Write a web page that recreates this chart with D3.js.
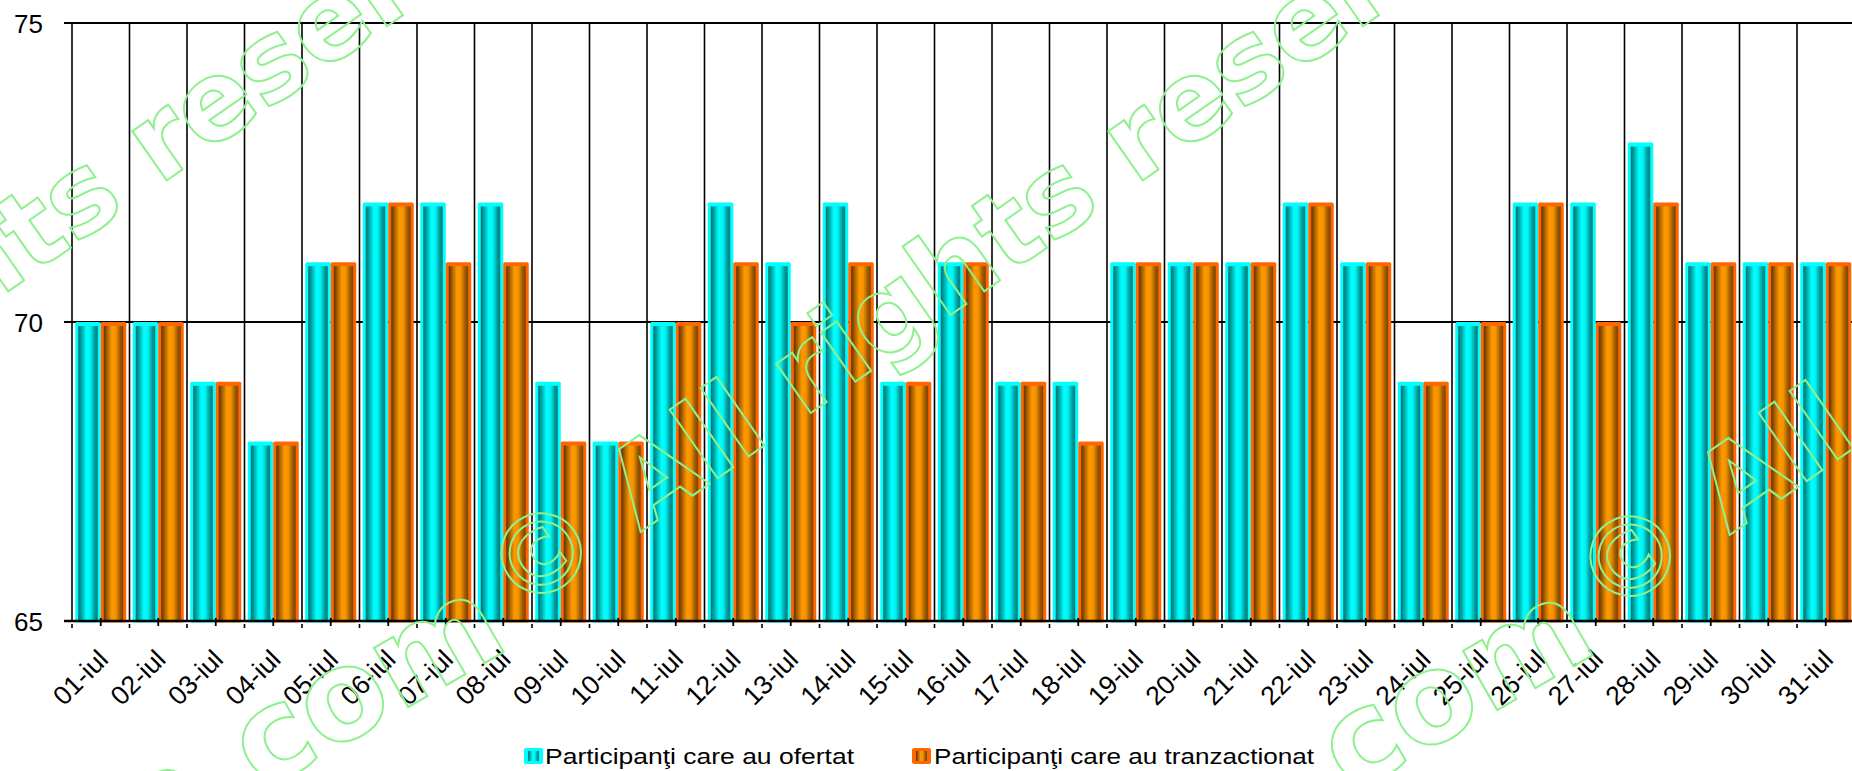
<!DOCTYPE html>
<html>
<head>
<meta charset="utf-8">
<script src="https://cdn.jsdelivr.net/npm/d3@7/dist/d3.min.js"></script>
<style>
  html, body { margin: 0; padding: 0; background: #fff; }
  svg { display: block; }
</style>
</head>
<body>
<svg id="chart" width="1852" height="771"></svg>
<script>
const categories = ["01-iul","02-iul","03-iul","04-iul","05-iul","06-iul","07-iul","08-iul","09-iul","10-iul",
  "11-iul","12-iul","13-iul","14-iul","15-iul","16-iul","17-iul","18-iul","19-iul","20-iul",
  "21-iul","22-iul","23-iul","24-iul","25-iul","26-iul","27-iul","28-iul","29-iul","30-iul","31-iul"];
const ofertat =       [70,70,69,68,71,72,72,72,69,68,70,72,71,72,69,71,69,69,71,71,71,72,71,69,70,72,72,73,71,71,71];
const tranzactionat = [70,70,69,68,71,72,71,71,68,68,70,71,70,71,69,71,69,68,71,71,71,72,71,69,70,72,70,72,71,71,71];
const seriesNames = ["Participanţi care au ofertat", "Participanţi care au tranzactionat"];
const yTicks = [65, 70, 75];
const watermarkMain = "© All rights reserved";
const watermarkPre = "a.com";

const W = 1852, H = 771;
const plotLeft = 72, plotTop = 23, plotBottom = 621, step = 57.5;
const svg = d3.select("#chart");
const defs = svg.append("defs");

function grad(id, stops) {
  const g = defs.append("linearGradient").attr("id", id)
    .attr("x1", "0%").attr("x2", "100%").attr("y1", "0%").attr("y2", "0%");
  stops.forEach(s => g.append("stop").attr("offset", s[0]).attr("stop-color", s[1]));
}
grad("gCyan", [[0,"#006f6f"],[0.18,"#00a8a8"],[0.42,"#00ffff"],[0.62,"#00f4f4"],[0.85,"#009a9a"],[1,"#007a7a"]]);
grad("gOrange", [[0,"#5e3000"],[0.18,"#a86000"],[0.42,"#ff9900"],[0.62,"#f59200"],[0.85,"#9a5800"],[1,"#7a4400"]]);

const x = d3.scaleBand().domain(categories).range([plotLeft, plotLeft + step * categories.length]).padding(0);
const xs = d3.scaleBand().domain(["o", "t"]).range([0, x.bandwidth()]).paddingInner(0).paddingOuter(0.1275);
const y = d3.scaleLinear().domain([65, 75]).range([plotBottom, plotTop]);

// horizontal gridlines
svg.append("g").selectAll("line").data(yTicks.filter(v => v > 65)).join("line")
  .attr("x1", plotLeft - 8).attr("x2", W).attr("y1", d => y(d)).attr("y2", d => y(d))
  .attr("stroke", "#000").attr("stroke-width", 2);

// vertical gridlines
svg.append("g").selectAll("line").data(d3.range(categories.length + 1)).join("line")
  .attr("x1", i => plotLeft + i * step).attr("x2", i => plotLeft + i * step)
  .attr("y1", y(75)).attr("y2", y(65))
  .attr("stroke", "#000").attr("stroke-width", 1.6);

// bars
const series = [
  {key: "o", values: ofertat, border: "#00ffff", fill: "url(#gCyan)"},
  {key: "t", values: tranzactionat, border: "#ff6600", fill: "url(#gOrange)"}
];
const barG = svg.append("g");
series.forEach(s => {
  const g = barG.append("g");
  const bw = xs.bandwidth();
  g.selectAll("rect.outer").data(categories).join("rect").attr("class", "outer")
    .attr("x", (c) => x(c) + xs(s.key)).attr("width", bw)
    .attr("y", (c, i) => y(s.values[i])).attr("height", (c, i) => y(65) - y(s.values[i]) + 1.5)
    .attr("rx", 1.5).attr("fill", s.border);
  g.selectAll("rect.inner").data(categories).join("rect").attr("class", "inner")
    .attr("x", (c) => x(c) + xs(s.key) + 3).attr("width", bw - 6)
    .attr("y", (c, i) => y(s.values[i]) + 4).attr("height", (c, i) => y(65) - y(s.values[i]) - 4)
    .attr("fill", s.fill);
});

// x axis line and top line
svg.append("line").attr("x1", plotLeft - 8).attr("x2", W).attr("y1", y(65)).attr("y2", y(65))
  .attr("stroke", "#000").attr("stroke-width", 2.5);
svg.append("line").attr("x1", plotLeft - 8).attr("x2", W).attr("y1", y(75)).attr("y2", y(75))
  .attr("stroke", "#000").attr("stroke-width", 2);

// ticks: centre (crossing) and boundary (short below)
svg.append("g").selectAll("line").data(categories).join("line")
  .attr("x1", c => x(c) + x.bandwidth() / 2).attr("x2", c => x(c) + x.bandwidth() / 2)
  .attr("y1", y(65) - 3).attr("y2", y(65) + 5).attr("stroke", "#000").attr("stroke-width", 1.8);
svg.append("g").selectAll("line").data(d3.range(categories.length + 1)).join("line")
  .attr("x1", i => plotLeft + i * step).attr("x2", i => plotLeft + i * step)
  .attr("y1", y(65) + 3).attr("y2", y(65) + 7).attr("stroke", "#000").attr("stroke-width", 1.6);

// y axis labels via d3 axis
const yAxis = svg.append("g").attr("transform", `translate(${plotLeft},0)`)
  .call(d3.axisLeft(y).tickValues(yTicks).tickSize(0).tickPadding(29).tickFormat(d3.format("d")));
yAxis.select(".domain").remove();
yAxis.selectAll("text").attr("font-family", "Liberation Sans, Arial, sans-serif")
  .attr("font-size", 26).attr("fill", "#000").attr("dy", "0.36em");

// x labels
svg.append("g").selectAll("text").data(categories).join("text")
  .attr("transform", c => `translate(${x(c) + x.bandwidth() / 2 + 9},${661}) rotate(-45)`)
  .attr("text-anchor", "end")
  .attr("font-family", "Liberation Sans, Arial, sans-serif").attr("font-size", 26.5).attr("fill", "#000")
  .text(c => c);

// legend
const legend = [
  {name: seriesNames[0], sx: 524, tx: 545, tl: 309, border: "#00ffff", fill: "url(#gCyan)"},
  {name: seriesNames[1], sx: 912, tx: 934, tl: 380, border: "#ff6600", fill: "url(#gOrange)"}
];
const lg = svg.append("g");
legend.forEach(l => {
  lg.append("rect").attr("x", l.sx).attr("y", 748).attr("width", 19).attr("height", 16).attr("rx", 2).attr("fill", l.border);
  lg.append("rect").attr("x", l.sx + 4).attr("y", 751).attr("width", 11).attr("height", 10).attr("fill", l.fill);
  lg.append("text").attr("x", l.tx).attr("y", 764)
    .attr("font-family", "Liberation Sans, Arial, sans-serif").attr("font-size", 22).attr("fill", "#000")
    .attr("textLength", l.tl).attr("lengthAdjust", "spacingAndGlyphs")
    .text(l.name);
});

// watermark
const wmCenters = [[-435, 553], [541, 553], [1630, 556]];
const wm = svg.append("g").attr("pointer-events", "none");
wmCenters.forEach(([cx, cy]) => {
  const g = wm.append("g").attr("transform", `translate(${cx},${cy}) rotate(-35)`);
  g.append("text").attr("x", -55).attr("y", 40)
    .attr("font-family", "DejaVu Sans").attr("font-weight", "bold").attr("font-size", 110)
    .attr("fill", "none").attr("stroke", "#8ef08e").attr("stroke-width", 2)
    .text(watermarkMain);
  wm.append("text").attr("transform", `translate(${cx - 29},${cy + 94}) rotate(-30)`)
    .attr("text-anchor", "end")
    .attr("font-family", "DejaVu Sans").attr("font-weight", "bold").attr("font-size", 125)
    .attr("fill", "none").attr("stroke", "#8ef08e").attr("stroke-width", 2)
    .text(watermarkPre);
});
</script>
</body>
</html>
